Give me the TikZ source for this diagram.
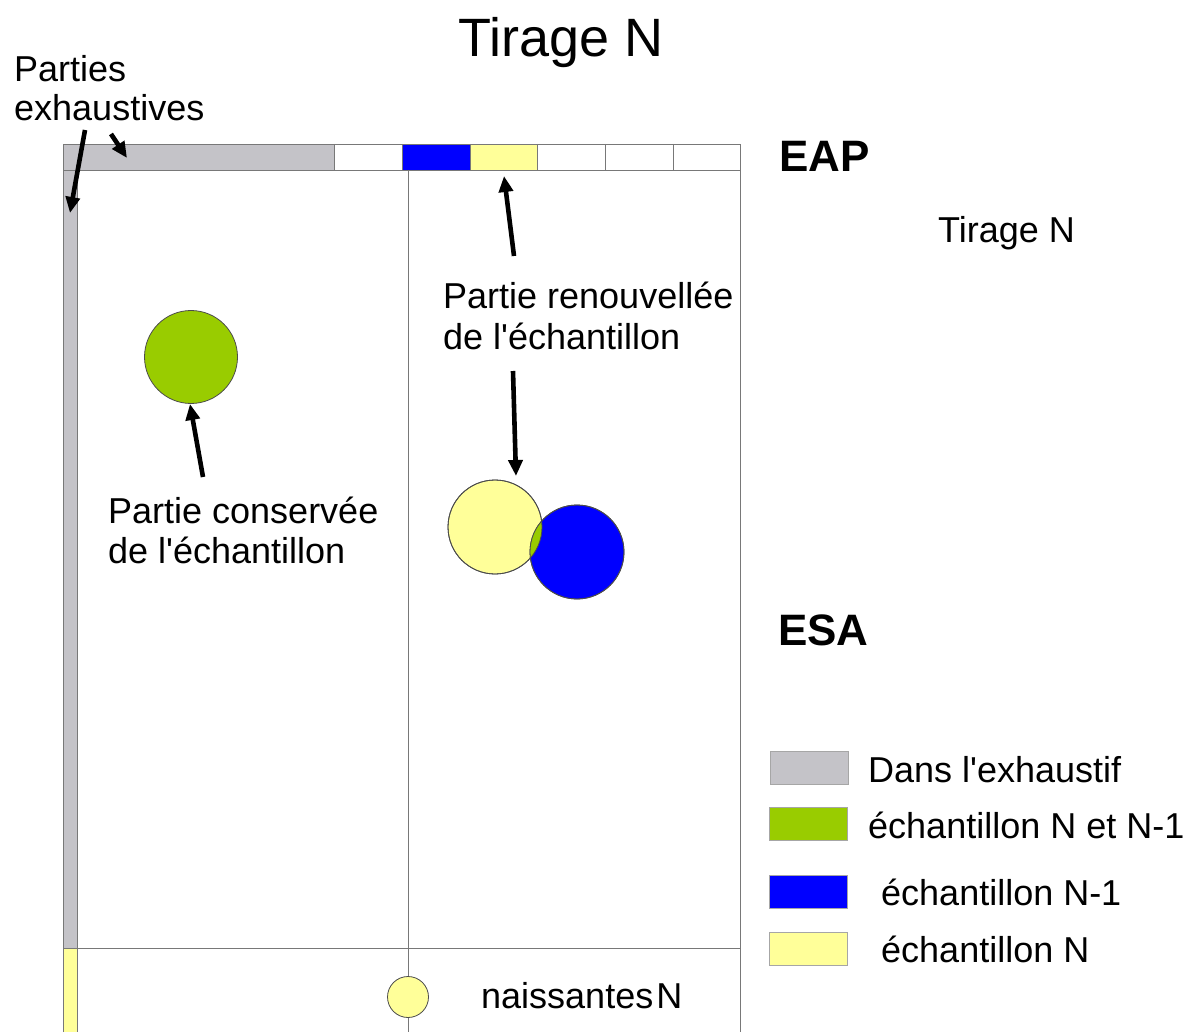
\documentclass[tikz,border=0pt]{standalone}
\usepackage{fontspec}
\setmainfont{Liberation Sans}[Ligatures=TeXOff]
\usetikzlibrary{arrows.meta}
\definecolor{exgray}{RGB}{196,195,200}
\definecolor{sgreen}{RGB}{153,204,0}
\definecolor{sblue}{RGB}{0,0,255}
\definecolor{syellow}{RGB}{255,255,153}
\definecolor{framec}{RGB}{120,120,120}
\begin{document}
\begin{tikzpicture}[x=1pt,y=-1pt,
  txt/.style={font=\fontsize{36}{40}\selectfont, inner sep=0pt, anchor=base west},
  bigtxt/.style={font=\fontsize{44}{48}\selectfont\bfseries, inner sep=0pt, anchor=base west},
  arr/.style={line width=4.6pt, -{Triangle[length=16pt,width=14pt]}},
  framel/.style={draw=framec, line width=0.9pt},
  disc/.style={circle, draw=black!70, line width=0.8pt, inner sep=0pt},
  legbox/.style={draw=black!35, line width=0.8pt, minimum width=78pt, minimum height=33pt, inner sep=0pt}]
\useasboundingbox (0,0) rectangle (1189,1032);
% top bar
\fill[exgray] (63,144) rectangle (334,170);
\fill[sblue] (402,144) rectangle (470,170);
\fill[syellow] (470,144) rectangle (537,170);
% strips
\fill[exgray] (63,170) rectangle (77,948);
\fill[syellow] (63,948) rectangle (77,1032);
\draw[framel] (63,144) rectangle (740,170);
\foreach \xx in {334,402,470,537,605,673} \draw[framel] (\xx,144) -- (\xx,170);
\draw[framel] (63,170) -- (63,1032);
\draw[framel] (77,170) -- (77,1032);
\draw[framel] (740,170) -- (740,1032);
\draw[framel] (408,170) -- (408,1032);
\draw[framel] (63,948) -- (740,948);
% circles
\node[disc, fill=sgreen, minimum size=93pt] (cgreen) at (191,357) {};
\node[disc, fill=syellow, minimum size=94pt] (cyellow) at (495,527) {};
\node[disc, fill=sblue, minimum size=94pt] (cblue) at (577,552) {};
\begin{scope}
  \clip (495,527) circle (47pt);
  \fill[sgreen] (577,552) circle (47pt);
\end{scope}
\draw[black!70, line width=0.8pt] (495,527) circle (47pt);
\draw[black!70, line width=0.8pt] (577,552) circle (47pt);
\node[disc, fill=syellow, minimum size=41pt] (cnew) at (408,997) {};
% texts
\node[font=\fontsize{54}{60}\selectfont, inner sep=0pt, anchor=base] (title) at (561,57) {Tirage N};
\node[txt] (parties1) at (14,82) {Parties};
\node[txt] (parties2) at (14,121) {exhaustives};
\node[bigtxt] (eap) at (779,172) {EAP};
\node[txt] (tirage2) at (938,243) {Tirage N};
\node[txt] (renouv1) at (443,309) {Partie renouvellée};
\node[txt] (renouv2) at (443,349) {de l'échantillon};
\node[txt] (conserv1) at (108,523) {Partie conservée};
\node[txt] (conserv2) at (108,563) {de l'échantillon};
\node[bigtxt] (esa) at (778,645) {ESA};
\node[txt] (naiss) at (481,1008) {naissantes\hspace{3pt}N};
% legend
\node[legbox, fill=exgray] (lg1) at (809,768) {};
\node[legbox, fill=sgreen] (lg2) at (808,824) {};
\node[legbox, fill=sblue] (lg3) at (808,892) {};
\node[legbox, fill=syellow] (lg4) at (808,949) {};
\node[txt] (lt1) at (868,782) {Dans l'exhaustif};
\node[txt] (lt2) at (868,838) {échantillon N et N-1};
\node[txt] (lt3) at (881,905) {échantillon N-1};
\node[txt] (lt4) at (881,962) {échantillon N};
% arrows
\coordinate (a1s) at (85,130);
\coordinate (a1e) at (70,213);
\coordinate (a2s) at (111,134);
\coordinate (a2e) at (127,158);
\coordinate (a3s) at (514,256);
\coordinate (a3e) at (504,176);
\coordinate (a4s) at (513,371);
\coordinate (a4e) at (516,476);
\coordinate (a5s) at (203,477);
\coordinate (a5e) at (190,404);
\draw[arr] (a1s) -- (a1e);
\draw[arr] (a2s) -- (a2e);
\draw[arr] (a3s) -- (a3e);
\draw[arr] (a4s) -- (a4e);
\draw[arr] (a5s) -- (a5e);
\end{tikzpicture}
\end{document}
